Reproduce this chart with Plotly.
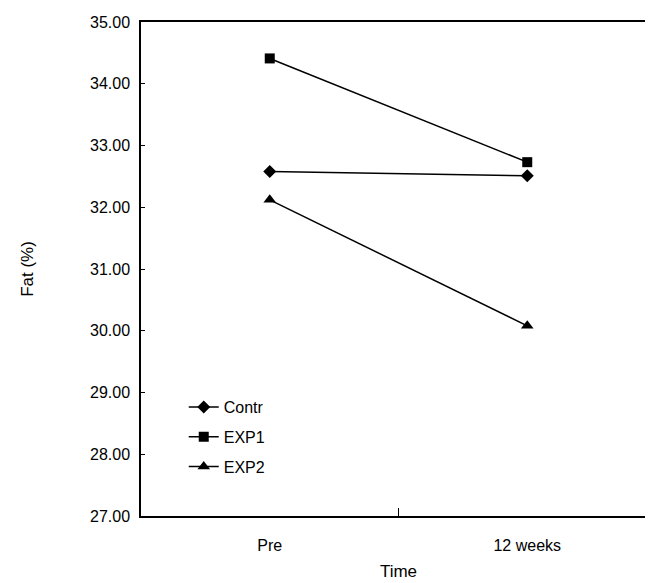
import plotly.graph_objects as go

times = ["Pre", "12 weeks"]
contr = [32.58, 32.51]
exp1 = [34.41, 32.73]
exp2 = [32.12, 30.08]
y_ticks = [27, 28, 29, 30, 31, 32, 33, 34, 35]
y_tick_labels = ["27.00", "28.00", "29.00", "30.00", "31.00", "32.00", "33.00", "34.00", "35.00"]

FONT = "Liberation Sans, Arial, sans-serif"

fig = go.Figure()
series = [("Contr", contr, "diamond", 10), ("EXP1", exp1, "square", 10), ("EXP2", exp2, "triangle-up", 11)]
for name, vals, sym, sz in series:
    fig.add_trace(go.Scatter(
        x=times, y=vals, name=name, mode="lines+markers", legendgroup=name,
        line=dict(color="black", width=1.5),
        marker=dict(symbol=sym, size=sz, color="black"),
    ))

fig.update_layout(
    width=653, height=583,
    margin=dict(l=133, r=3, t=14, b=75),
    paper_bgcolor="white", plot_bgcolor="white",
    font=dict(family=FONT, color="black", size=16),
    showlegend=True,
    legend=dict(x=0.083, y=0.255, xanchor="left", yanchor="top",
                bgcolor="rgba(0,0,0,0)", font=dict(size=16), tracegroupgap=6),
    xaxis=dict(
        type="category", range=[-0.5, 1.5],
        showline=True, linecolor="black", linewidth=1.5, mirror=True,
        ticks="inside", tickson="boundaries", ticklen=8, tickcolor="black",
        showgrid=False, zeroline=False,
        tickfont=dict(size=16), ticklabelstandoff=14,
        title=dict(text="Time", font=dict(size=17), standoff=12),
    ),
    yaxis=dict(
        range=[27, 35], tickvals=y_ticks, ticktext=y_tick_labels,
        showline=True, linecolor="black", linewidth=1.5, mirror=True,
        ticks="inside", ticklen=4, tickcolor="black",
        showgrid=False, zeroline=False,
        tickfont=dict(size=16), ticklabelstandoff=6,
        title=dict(text="Fat (%)", font=dict(size=17), standoff=52),
    ),
)

fig.write_html("out.html")
